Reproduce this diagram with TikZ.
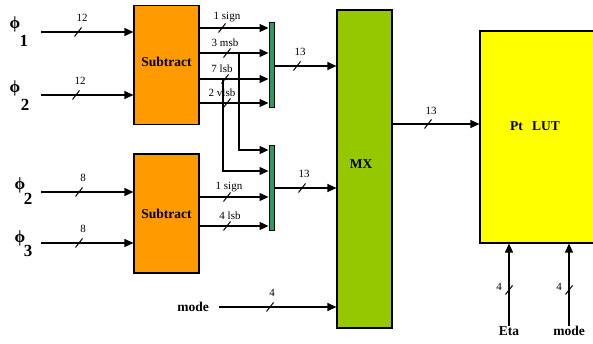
\documentclass[tikz,border=0pt]{standalone}
\usepackage{fontspec}
\setmainfont{Liberation Serif}
\usetikzlibrary{arrows.meta,calc}
\definecolor{suborange}{HTML}{FF9A00}
\definecolor{mxgreen}{HTML}{96C800}
\definecolor{bargreen}{HTML}{2E9960}
\definecolor{lutyellow}{HTML}{FFFF00}
\begin{document}
\begin{tikzpicture}[x=1pt,y=-1pt,
 arr/.style={line width=1.2pt,-{Triangle[length=9pt,width=8pt]}},
 wire/.style={line width=1.2pt},
 box/.style={draw,line width=1.2pt,inner sep=0pt},
 blabel/.style={font=\bfseries\fontsize{13.5}{15}\selectfont,inner sep=0pt},
 num/.style={font=\fontsize{11}{12}\selectfont,inner sep=0pt},
 phil/.style={font=\bfseries\fontsize{17}{18}\selectfont,inner sep=0pt},
 busmark/.pic={\draw[line width=1pt] (-3.5,4.5) -- (3.5,-4.5);}
]
\useasboundingbox (0,0) rectangle (593,344);

% boxes
\node[box,fill=suborange,minimum width=65pt,minimum height=119pt] (sub1) at (166.5,65) {};
\node[blabel] (sub1t) at (166.5,62) {Subtract};
\node[box,fill=suborange,minimum width=65pt,minimum height=119pt] (sub2) at (166.5,213.5) {};
\node[blabel] (sub2t) at (166.5,214) {Subtract};
\node[box,fill=bargreen,minimum width=5pt,minimum height=85pt,line width=1pt] (bar1) at (271.5,65.5) {};
\node[box,fill=bargreen,minimum width=5pt,minimum height=85pt,line width=1pt] (bar2) at (271.5,188.5) {};
\node[box,fill=mxgreen,minimum width=55pt,minimum height=318pt] (mx) at (364.5,169) {};
\node[blabel] (mxt) at (361,164) {MX};
\node[box,fill=lutyellow,minimum width=122pt,minimum height=212pt] (lut) at (541,137) {};
\node[blabel] (lutt) at (535,126) {Pt\hspace{0.7em}LUT};

% phi labels
\node[phil] (f1) at (15,24) {ϕ};
\node[phil] (f1s) at (24,41) {1};
\node[phil] (f2) at (15,88) {ϕ};
\node[phil] (f2s) at (25,105) {2};
\node[phil] (f3) at (20,185) {ϕ};
\node[phil] (f3s) at (28,199) {2};
\node[phil] (f4) at (20,238) {ϕ};
\node[phil] (f4s) at (28,251) {3};

% input coordinates
\coordinate (p1) at (41,32);
\coordinate (p2) at (41,95);
\coordinate (p3) at (41,192);
\coordinate (p4) at (41,243);
\draw[arr] (p1) -- (p1 -| sub1.west);
\draw[arr] (p2) -- (p2 -| sub1.west);
\draw[arr] (p3) -- (p3 -| sub2.west);
\draw[arr] (p4) -- (p4 -| sub2.west);
\node[num] (n12a) at (82,18) {12};
\node[num] (n12b) at (80,81) {12};
\node[num] (n8a) at (83,178) {8};
\node[num] (n8b) at (83,229) {8};
\pic at (78,32) {busmark};
\pic at (76,95) {busmark};
\pic at (79,192) {busmark};
\pic at (79,243) {busmark};

% row coordinates
\coordinate (r1) at (0,28);
\coordinate (r2) at (0,53);
\coordinate (r3) at (0,79);
\coordinate (r4) at (0,103);
\coordinate (r5) at (0,150);
\coordinate (r6) at (0,171);
\coordinate (r7) at (0,197);
\coordinate (r8) at (0,226);
\coordinate (rb1) at (0,66);
\coordinate (rb2) at (0,188);
\coordinate (rl) at (0,124);

% subtract 1 outputs
\draw[arr] (sub1.east |- r1) -- (bar1.west |- r1);
\draw[arr] (sub1.east |- r2) -- (bar1.west |- r2);
\draw[arr] (sub1.east |- r3) -- (bar1.west |- r3);
\draw[arr] (sub1.east |- r4) -- (bar1.west |- r4);
\node[num] (l1) at (227,17) {1 sign};
\node[num] (l2) at (225,43) {3 msb};
\node[num] (l3) at (222,69) {7 lsb};
\node[num] (l4) at (222,93) {2 vlsb};
\pic at (222,28) {busmark};
\pic at (227,53) {busmark};
\pic at (225,79) {busmark};
\pic at (227,103) {busmark};

% crossovers to bar2
\coordinate (j1) at (239,53);
\coordinate (j2) at (223,79);
\draw[arr] (j1) |- (bar2.west |- r5);
\draw[arr] (j2) |- (bar2.west |- r6);

% subtract 2 outputs
\draw[arr] (sub2.east |- r7) -- (bar2.west |- r7);
\draw[arr] (sub2.east |- r8) -- (bar2.west |- r8);
\node[num] (l5) at (229,187) {1 sign};
\node[num] (l6) at (230,216) {4 lsb};
\pic at (227,197) {busmark};
\pic at (227,226) {busmark};

% bars to MX
\draw[arr] (bar1.east |- rb1) -- (mx.west |- rb1);
\draw[arr] (bar2.east |- rb2) -- (mx.west |- rb2);
\node[num] (n13a) at (300,52) {13};
\node[num] (n13b) at (304,174) {13};
\pic at (297,66) {busmark};
\pic at (302,188) {busmark};

% mode to MX
\node[blabel] (mode1) at (193,307) {mode};
\coordinate (m0) at (219,307);
\draw[arr] (m0) -- (mx.west |- m0);
\node[num] (n4a) at (272,293) {4};
\pic at (270,307) {busmark};

% MX to LUT
\draw[arr] (mx.east |- rl) -- (lut.west |- rl);
\node[num] (n13c) at (431,111) {13};
\pic at (428,124) {busmark};

% Eta and mode into LUT
\node[blabel,anchor=north] (eta) at (509,326) {Eta};
\node[blabel,anchor=north] (mode2) at (569,326) {mode};
\draw[arr] (eta.north) -- (lut.south -| eta.north);
\draw[arr] (mode2.north) -- (lut.south -| mode2.north);
\node[num] (n4b) at (499,287) {4};
\node[num] (n4c) at (559,287) {4};
\pic at (509,290) {busmark};
\pic at (569,290) {busmark};
\end{tikzpicture}
\end{document}
